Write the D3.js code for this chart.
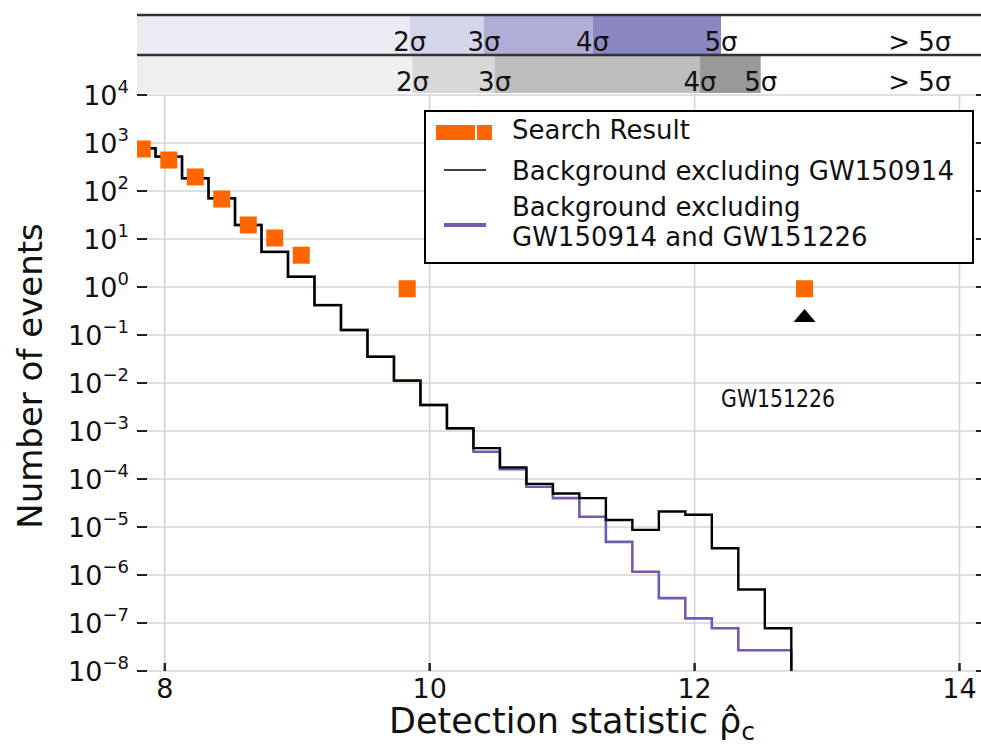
<!DOCTYPE html>
<html><head><meta charset="utf-8">
<script src="https://cdn.jsdelivr.net/npm/d3@7/dist/d3.min.js"></script>
<style>body{margin:0;background:#fff} svg{display:block} text{font-family:"DejaVu Sans",sans-serif;fill:#111}</style>
</head><body><svg id="c" width="981" height="746"></svg>
<script>
// ---------------- data ----------------
const yTicks = [1e4, 1e3, 1e2, 1e1, 1e0, 1e-1, 1e-2, 1e-3, 1e-4, 1e-5, 1e-6, 1e-7, 1e-8];
const yTickExp = ["4", "3", "2", "1", "0", "\u22121", "\u22122", "\u22123", "\u22124", "\u22125", "\u22126", "\u22127", "\u22128"];
const xTicks = [8, 10, 12, 14];
const xTickLabels = ["8", "10", "12", "14"];

// background histogram bins (left edges) and final right edge
const binLeft = [7.73, 7.93, 8.13, 8.33, 8.53, 8.73, 8.93, 9.13, 9.33, 9.53, 9.73, 9.93, 10.13,
                 10.33, 10.53, 10.73, 10.93, 11.13, 11.33, 11.53, 11.73, 11.93, 12.13, 12.33, 12.53];
const binEnd = 12.73;
const bgExcl150914 = [776, 519, 184, 70.5, 19.6, 5.4, 1.64, 0.42, 0.127, 0.0353, 0.0112, 0.00348, 0.00114,
                      4.4e-4, 1.75e-4, 7.9e-5, 5.0e-5, 4.0e-5, 1.4e-5, 8.7e-6, 2.1e-5, 1.8e-5, 3.6e-6, 5.0e-7, 7.8e-8];
const bgExclBoth   = [776, 519, 184, 70.5, 19.6, 5.4, 1.64, 0.42, 0.127, 0.0353, 0.0112, 0.00348, 0.00114,
                      3.7e-4, 1.6e-4, 6.9e-5, 4.0e-5, 1.64e-5, 4.9e-6, 1.17e-6, 3.3e-7, 1.25e-7, 7.8e-8, 2.7e-8, 2.7e-8];

// search result points
const searchX = [7.83, 8.03, 8.23, 8.43, 8.63, 8.83, 9.03, 9.83, 12.83];
const searchY = [750, 442, 196, 68, 19.6, 10.5, 4.6, 0.92, 0.92];

// GW151226 marker
const markerX = [12.83];
const markerY = [0.25];
const eventLabel = "GW151226";
const eventLabelX = 12.2, eventLabelY = 3.2e-3;

// significance bands
const purpleEdges = [9.85, 10.41, 11.23, 12.2];
const grayEdges = [9.87, 10.49, 12.04, 12.5];
const purpleColors = ["#ebebf4", "#d4d4ea", "#b0aed6", "#8b87c0", "#ffffff"];
const grayColors = ["#efefef", "#d8d8d8", "#bdbdbd", "#999999", "#ffffff"];
const sigmaLabels = ["2\u03c3", "3\u03c3", "4\u03c3", "5\u03c3"];
const beyondLabel = "> 5\u03c3";
const beyondX = 13.7;

const legendLabels = ["Search Result", "Background excluding GW150914", ["Background excluding", "GW150914 and GW151226"]];

// ---------------- layout ----------------
const L = 137, R = 986, T = 95, B = 671;
const x = d3.scaleLinear().domain([7.79, 14.2]).range([L, R]);
const y = d3.scaleLog().domain([1e-8, 1e4]).range([B, T]);

const svg = d3.select("#c");
const orange = "#ff6600", purple = "#7459b3";

// bands
function band(edges, colors, y0, y1, labelY) {
  const bounds = [x.domain()[0], ...edges, x.domain()[1]];
  const g = svg.append("g");
  g.selectAll("rect").data(colors).join("rect")
    .attr("x", (d, i) => x(bounds[i])).attr("width", (d, i) => x(bounds[i + 1]) - x(bounds[i]))
    .attr("y", y0).attr("height", y1 - y0).attr("fill", d => d);
  g.selectAll("text.s").data(edges).join("text").attr("class", "s")
    .attr("x", d => x(d)).attr("y", labelY).attr("text-anchor", "middle")
    .attr("font-size", 26).text((d, i) => sigmaLabels[i]);
  g.append("text").attr("x", x(beyondX)).attr("y", labelY).attr("text-anchor", "middle")
    .attr("font-size", 26).text(beyondLabel);
}
band(purpleEdges, purpleColors, 16, 54, 51);
band(grayEdges, grayColors, 56, 93, 91);
svg.append("line").attr("x1", L).attr("x2", 981).attr("y1", 15).attr("y2", 15).attr("stroke", "#333").attr("stroke-width", 2.5);
svg.append("line").attr("x1", L).attr("x2", 981).attr("y1", 55).attr("y2", 55).attr("stroke", "#333").attr("stroke-width", 2.5);

// grid
const grid = svg.append("g").attr("stroke", "#d4d4d4").attr("stroke-width", 1.6);
grid.selectAll("line.h").data(yTicks).join("line").attr("class", "h")
  .attr("x1", L).attr("x2", R).attr("y1", d => y(d)).attr("y2", d => y(d));
grid.selectAll("line.v").data(xTicks).join("line").attr("class", "v")
  .attr("y1", T).attr("y2", B).attr("x1", d => x(d)).attr("x2", d => x(d));

// ticks
const tk = svg.append("g").attr("stroke", "#222").attr("stroke-width", 2);
tk.selectAll("line.yl").data(yTicks).join("line").attr("class", "yl")
  .attr("x1", L).attr("x2", L + 10).attr("y1", d => y(d)).attr("y2", d => y(d));
tk.selectAll("line.yr").data(yTicks).join("line").attr("class", "yr")
  .attr("x1", R - 10).attr("x2", R).attr("y1", d => y(d)).attr("y2", d => y(d));
tk.selectAll("line.xb").data(xTicks).join("line").attr("class", "xb").attr("stroke-width", 2.5)
  .attr("x1", d => x(d)).attr("x2", d => x(d)).attr("y1", B).attr("y2", B - 8);

// tick labels
yTicks.forEach((v, i) => {
  const t = svg.append("text").attr("x", 129).attr("y", y(v) + 10).attr("text-anchor", "end").attr("font-size", 27);
  t.append("tspan").text("10");
  t.append("tspan").attr("dy", -12.5).attr("font-size", 18).text(yTickExp[i]);
});
svg.selectAll("text.xt").data(xTicks).join("text").attr("class", "xt")
  .attr("x", d => x(d)).attr("y", 698).attr("text-anchor", "middle").attr("font-size", 27)
  .text((d, i) => xTickLabels[i]);

// axis labels
svg.append("text").attr("transform", "translate(42,376) rotate(-90)").attr("text-anchor", "middle")
  .attr("font-size", 34).text("Number of events");
const xl = svg.append("text").attr("x", 572).attr("y", 733).attr("text-anchor", "middle").attr("font-size", 35);
xl.append("tspan").text("Detection statistic \u03c1\u0302");
xl.append("tspan").attr("dy", 7).attr("font-size", 25).text("c");

// clipped plot content
svg.append("clipPath").attr("id", "pc").append("rect").attr("x", L).attr("y", T).attr("width", R - L).attr("height", B - T);
const plot = svg.append("g").attr("clip-path", "url(#pc)");

function stepPts(vals) {
  const pts = binLeft.map((e, i) => [e, vals[i]]);
  pts.push([binEnd, vals[vals.length - 1]]);
  pts.push([binEnd, 1e-10]);
  return pts;
}
const line = d3.line().x(d => x(d[0])).y(d => y(d[1])).curve(d3.curveStepAfter);
plot.append("path").attr("d", line(stepPts(bgExclBoth))).attr("fill", "none").attr("stroke", purple).attr("stroke-width", 2.6);
plot.append("path").attr("d", line(stepPts(bgExcl150914))).attr("fill", "none").attr("stroke", "#000").attr("stroke-width", 2.4);

const sq = 17;
plot.selectAll("rect.sr").data(searchX).join("rect").attr("class", "sr")
  .attr("x", d => x(d) - sq / 2).attr("y", (d, i) => y(searchY[i]) - sq / 2)
  .attr("width", sq).attr("height", sq).attr("fill", orange);

// triangle marker
plot.selectAll("path.tri").data(markerX).join("path").attr("class", "tri")
  .attr("d", (d, i) => {
    const cx = x(d), cy = y(markerY[i]);
    return `M${cx - 11},${cy + 6}L${cx + 11},${cy + 6}L${cx},${cy - 7}Z`;
  }).attr("fill", "#000");

svg.append("text").attr("x", x(eventLabelX)).attr("y", y(eventLabelY)).attr("font-size", 25)
  .attr("textLength", 114).attr("lengthAdjust", "spacingAndGlyphs").text(eventLabel);

// legend
const lg = svg.append("g");
lg.append("rect").attr("x", 425).attr("y", 111).attr("width", 548).attr("height", 152)
  .attr("fill", "#fff").attr("stroke", "#000").attr("stroke-width", 2);
lg.append("rect").attr("x", 436).attr("y", 125).attr("width", 39).attr("height", 15).attr("fill", orange);
lg.append("rect").attr("x", 477).attr("y", 125).attr("width", 15).attr("height", 15).attr("fill", orange);
lg.append("line").attr("x1", 444).attr("x2", 486).attr("y1", 170).attr("y2", 170).attr("stroke", "#000").attr("stroke-width", 1.6);
lg.append("line").attr("x1", 444).attr("x2", 486).attr("y1", 225).attr("y2", 225).attr("stroke", purple).attr("stroke-width", 4);
lg.append("text").attr("x", 512).attr("y", 139).attr("font-size", 26).text(legendLabels[0]);
lg.append("text").attr("x", 512).attr("y", 180).attr("font-size", 26).text(legendLabels[1]);
lg.append("text").attr("x", 512).attr("y", 216).attr("font-size", 26).text(legendLabels[2][0]);
lg.append("text").attr("x", 512).attr("y", 246).attr("font-size", 26).text(legendLabels[2][1]);
</script></body></html>
